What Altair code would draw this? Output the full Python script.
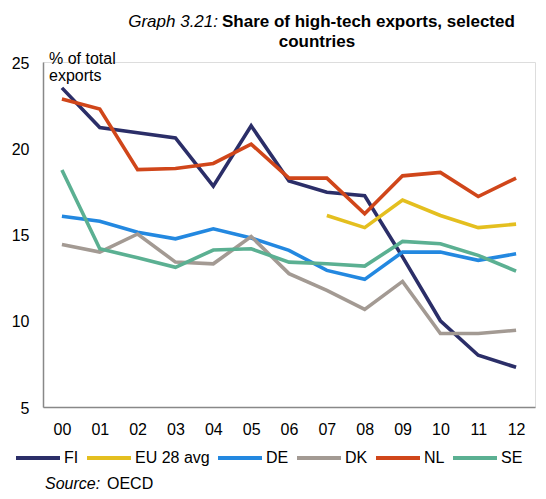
import altair as alt
import pandas as pd

years = ["00", "01", "02", "03", "04", "05", "06", "07", "08", "09", "10", "11", "12"]
series_names = ["FI", "EU 28 avg", "DE", "DK", "NL", "SE"]
colors = ["#2b2e68", "#e4bf1f", "#2388e0", "#a39a93", "#d0461a", "#5bb092"]

fi = [23.5, 21.2, 20.9, 20.6, 17.8, 21.3, 18.1, 17.45, 17.25, 13.7, 10.0, 8.0, 7.3]
eu = [None, None, None, None, None, None, None, 16.1, 15.4, 17.0, 16.1, 15.4, 15.6]
de = [16.06, 15.77, 15.13, 14.75, 15.33, 14.8, 14.08, 12.92, 12.4, 13.98, 13.98, 13.5, 13.88]
dk = [14.42, 13.98, 15.03, 13.4, 13.3, 14.88, 12.73, 11.76, 10.66, 12.28, 9.26, 9.26, 9.45]
nl = [22.85, 22.27, 18.76, 18.83, 19.12, 20.24, 18.27, 18.27, 16.2, 18.4, 18.6, 17.2, 18.27]
se = [18.74, 14.17, 13.65, 13.1, 14.1, 14.17, 13.4, 13.3, 13.17, 14.6, 14.46, 13.79, 12.88]

y_ticks = [5, 10, 15, 20, 25]

rows = []
for name, vals in zip(series_names, [fi, eu, de, dk, nl, se]):
    for yr, v in zip(years, vals):
        if v is not None:
            rows.append({"year": yr, "series": name, "value": v, "order": series_names.index(name)})
df = pd.DataFrame(rows)

FONT = "Liberation Sans"

lines = alt.Chart(df).mark_line(strokeWidth=3.6, strokeJoin="miter", strokeCap="butt").encode(
    x=alt.X("year:O", sort=years, scale=alt.Scale(domain=years),
            axis=alt.Axis(title=None, labelAngle=0, ticks=False, labelPadding=14,
                          labelFontSize=16, labelColor="#000", domainColor="#888",
                          domainWidth=1.5, labelFont=FONT)),
    y=alt.Y("value:Q", scale=alt.Scale(domain=[5, 25], nice=False, zero=False),
            axis=alt.Axis(title=None, values=y_ticks, grid=False, ticks=False,
                          labelPadding=14, labelFontSize=16, labelColor="#000",
                          domainColor="#888", domainWidth=1.5, labelFont=FONT,
                          labelBaseline="middle", labelOffset=1)),
    color=alt.Color("series:N", sort=series_names,
                    scale=alt.Scale(domain=series_names, range=colors),
                    legend=alt.Legend(title=None, orient="none", direction="horizontal",
                                      legendX=-29, legendY=372, symbolType="stroke",
                                      symbolSize=1936, symbolStrokeWidth=4,
                                      labelFontSize=16, labelFont=FONT, labelColor="#000",
                                      labelOffset=2, columnPadding=0, padding=0,
                                      gridAlign="none")),
    order=alt.Order("order:Q"),
    detail="series:N",
)

def txt(text, x, y, style="normal", weight="normal", align="left", baseline="alphabetic", size=17):
    return alt.Chart(pd.DataFrame({"t": [text]})).mark_text(
        font=FONT, fontSize=size, fontStyle=style, fontWeight=weight,
        align=align, baseline=baseline, color="#000"
    ).encode(text="t:N", x=alt.value(x), y=alt.value(y))

title1a = txt("Graph 3.21:", 175, -35.5, style="italic", align="right")
title1b = txt("Share of high-tech exports, selected", 179, -35.5, weight="bold")
title2 = txt("countries", 274, -15.5, weight="bold", align="center")
ytitle1 = txt("% of total", 6, -3, baseline="middle", size=16)
ytitle2 = txt("exports", 6, 14, baseline="middle", size=16)
src1 = txt("Source:", 2, 427, style="italic", size=16)
src2 = txt("OECD", 64, 427, size=16)

chart = alt.layer(lines, title1a, title1b, title2, ytitle1, ytitle2, src1, src2).properties(
    width=492, height=345,
    autosize=alt.AutoSizeParams(type="none"),
    padding={"left": 35, "top": 54, "right": 3, "bottom": 84},
).configure_view(stroke=None).configure(font=FONT)

chart.save("out.html", embed_options={"renderer": "svg", "actions": False})
